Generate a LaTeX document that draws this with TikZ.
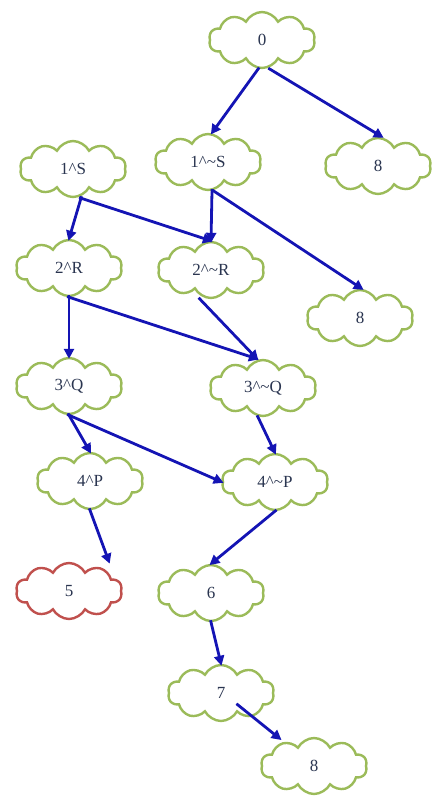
\documentclass[tikz,border=0pt]{standalone}
\usepackage{fontspec}
\setmainfont{Liberation Serif}
\usetikzlibrary{shapes.symbols,arrows.meta}
\definecolor{cloudgreen}{HTML}{9BBB59}
\definecolor{cloudred}{HTML}{C0504D}
\definecolor{arrowblue}{HTML}{1414B4}
\definecolor{labelink}{HTML}{2A3550}
\newcommand{\caret}{\textasciicircum}
\newcommand{\nt}{\textasciicircum\textasciitilde}
\tikzset{
  bubble/.style={cloud, cloud puffs=10, cloud puff arc=125, aspect=1.9,
    draw=cloudgreen, line width=2.4pt, fill=white,
    minimum width=106pt, minimum height=56pt, inner sep=0pt,
    text=labelink, font=\fontsize{17}{19}\selectfont},
  redbubble/.style={bubble, draw=cloudred},
  link/.style={draw=arrowblue, line width=2.8pt,
    -{Triangle[length=10pt,width=10pt]}, shorten >=-2pt, shorten <=-2pt}
}
\begin{document}
\begin{tikzpicture}[x=1pt,y=-1pt]
\useasboundingbox (0,0) rectangle (433,796);
% clouds
\node[bubble] (n0)   at (262,40)  {0};
\node[bubble] (n1s)  at (73,169)  {1\caret S};
\node[bubble] (n1ns) at (208,162) {1\nt S};
\node[bubble] (n8a)  at (378,166) {8};
\node[bubble] (n2r)  at (69,268)  {2\caret R};
\node[bubble] (n2nr) at (211,270) {2\nt R};
\node[bubble] (n8b)  at (360,318) {8};
\node[bubble] (n3q)  at (69,386)  {3\caret Q};
\node[bubble] (n3nq) at (263,388) {3\nt Q};
\node[bubble] (n4p)  at (90,481)  {4\caret P};
\node[bubble] (n4np) at (275,482) {4\nt P};
\node[redbubble] (n5) at (69,591) {5};
\node[bubble] (n6)   at (211,593) {6};
\node[bubble] (n7)   at (221,693) {7};
\node[bubble] (n8c)  at (314,766) {8};
% arrows
\draw[link] ([xshift=-4pt]n0.south) -- ([xshift=4pt]n1ns.north);
\draw[link] ([xshift=8pt]n0.south) -- ([xshift=4pt]n8a.north);
\draw[link] ([xshift=8pt]n1s.south) -- (n2r.north);
\draw[link] ([xshift=8pt]n1s.south) -- (n2nr.north);
\draw[link] ([xshift=4pt]n1ns.south) -- (n2nr.north);
\draw[link] ([xshift=6pt]n1ns.south) -- ([xshift=2pt]n8b.north);
\draw[link] (n2r.south) -- (n3q.north);
\draw[link] (n2r.south) -- ([xshift=-6pt]n3nq.north);
\draw[link] ([xshift=-11pt]n2nr.south) -- ([xshift=-6pt]n3nq.north);
\draw[link] (n3q.south) -- (n4p.north);
\draw[link] (n3q.south) -- (n4np.west);
\draw[link] ([xshift=-5pt]n3nq.south) -- (n4np.north);
\draw[link] (n4p.south) -- ([xshift=40pt]n5.north);
\draw[link] (n4np.south) -- (n6.north);
\draw[link] (n6.south) -- (n7.north);
\draw[link] ([xshift=17pt,yshift=-12pt]n7.center) -- ([xshift=-34pt,yshift=-2pt]n8c.north);
\end{tikzpicture}
\end{document}
